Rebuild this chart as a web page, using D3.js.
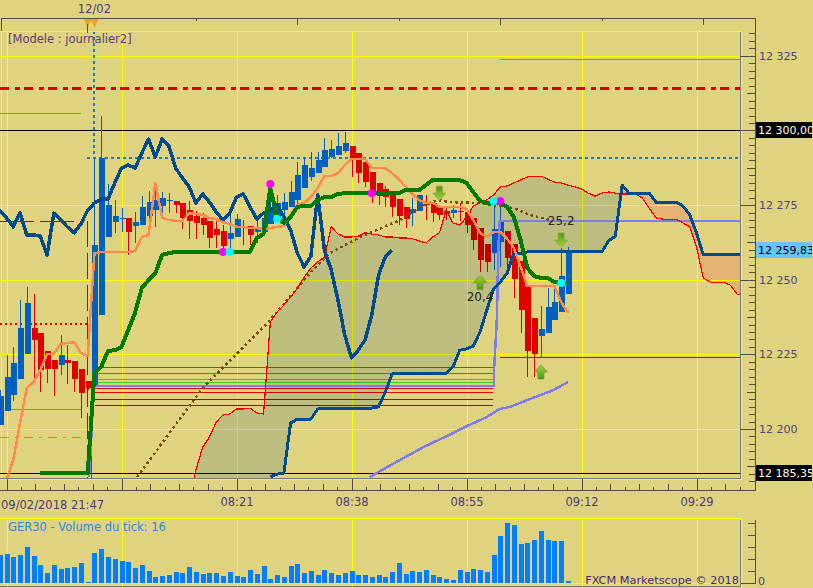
<!DOCTYPE html>
<html>
<head>
<meta charset="utf-8">
<script src="https://cdn.jsdelivr.net/npm/d3@7.9.0/dist/d3.min.js"></script>
<style>
  html, body { margin: 0; padding: 0; background: #dfd380; overflow: hidden; }
  text { font-family: "DejaVu Sans", sans-serif; font-size: 11.5px; }
  .crisp { shape-rendering: crispEdges; }
</style>
</head>
<body>
<div id="chart"></div>
<script>
// candles, first one is index -1 (just off the left edge)
const opens = [12201.3,12206,12211.4,12216.7,12225.1,12233.8,12232.1,12226.1,12223.1,12221.4,12223.1,12222.8,12220.1,12216.1,12214.7,12238.2,12264.3,12269.3,12270.3,12270.7,12268,12268.3,12271.3,12273.3,12274.7,12276.4,12276.4,12275.7,12273.3,12271.3,12270.7,12269.7,12267,12266.3,12263.7,12264.3,12267.7,12268,12266,12266,12268.7,12269.3,12273.3,12274.4,12276.7,12280.7,12284.4,12285.7,12287.8,12291.1,12291.8,12293.1,12294.8,12292.4,12289.4,12286.1,12282.4,12280.4,12278.4,12277,12274.4,12272.3,12273,12275.4,12275.7,12274.4,12273,12272.3,12273,12272.7,12270.7,12267.3,12262,12258.9,12262.7,12266.3,12262,12256.3,12247.9,12237.2,12231.1,12232.1,12236.5,12239.2,12245.2];
const highs = [12213,12224.8,12227.5,12243.2,12247.6,12245.2,12232.1,12226.1,12223.1,12231.5,12228.1,12222.8,12220.1,12216.1,12290.8,12304.8,12282.1,12276.7,12274,12270.7,12272.7,12278,12279.7,12281.7,12279.4,12279,12276.4,12275.7,12276.4,12273,12272.3,12269.7,12270,12268.3,12271.7,12272,12270,12268,12270,12272.3,12280,12278.4,12279,12283.1,12289.4,12291.1,12292.8,12292.8,12297.5,12296.8,12299.1,12299.5,12294.8,12292.4,12289.4,12286.1,12282.4,12281.4,12278.4,12277,12274.4,12277.4,12278.4,12278.4,12275.7,12274.4,12274.4,12275,12275.7,12272.7,12270.7,12267.3,12262,12277.4,12277.7,12266.3,12262,12256.3,12247.9,12237.2,12241.2,12247.2,12247.2,12260.7,12261];
const lows = [12201.3,12206,12209.4,12216.7,12225.1,12216.4,12212.4,12215.4,12211,12218.1,12215.1,12212.4,12203.7,12213,12213,12238.2,12264.3,12265.7,12266,12258.3,12262.3,12268.3,12266.7,12267.7,12272.3,12272.3,12272.3,12267,12263.7,12263.7,12265,12260.7,12260.7,12259.9,12259.9,12264.3,12261.7,12261.7,12262.3,12266,12268.7,12269.3,12270.7,12274.4,12274.4,12280.7,12283.1,12285.7,12287.8,12290.8,12291.8,12292.4,12284.4,12282.4,12281.1,12275.7,12275,12274.4,12271,12268.3,12267.3,12268,12273,12270,12269.3,12270,12270,12270.7,12269.7,12265.7,12259.9,12252.6,12252.6,12253.3,12254.3,12253.3,12243.9,12232.1,12217.4,12217.4,12223.8,12232.1,12236.5,12239.2,12245.2];
const closes = [12211,12217.4,12222.1,12233.8,12242.2,12229.8,12219.7,12220.1,12220.1,12224.8,12222.1,12216.7,12212,12213.7,12261.7,12290.8,12275,12271.3,12270.7,12266,12269.3,12274.4,12276,12276.7,12277.4,12276.7,12275,12270.7,12269.7,12269,12268.3,12264,12265,12261.3,12265.7,12270.3,12267.3,12265,12267,12270.7,12274.4,12275.7,12276,12279.4,12285.1,12288.4,12287.4,12290.1,12293.4,12293.8,12294.8,12295.8,12290.1,12285.7,12282.7,12279.4,12278,12277.7,12274.4,12271.3,12270.3,12273.7,12278.4,12275,12272.3,12271.7,12272,12273.3,12272.7,12268.3,12263.3,12256.6,12255.9,12267,12269.3,12257.3,12250.2,12239.8,12226.1,12225.1,12233.5,12240.9,12242.5,12251.2,12259.8];

const tickVolume = [198,205,184,198,254,191,128,72,128,100,107,114,142,7,212,240,184,170,156,149,107,128,86,44,51,58,79,72,114,79,65,72,72,51,79,51,44,93,65,121,30,58,44,121,135,72,86,58,93,72,58,72,86,58,58,44,58,44,79,142,65,86,79,93,58,44,30,23,93,79,100,93,79,198,331,422,408,275,282,303,366,303,296,296,16];

// orange line, starts at index 0
const tenkan = [12182.9,12189.6,12202,12213.7,12215.7,12219.7,12225.1,12225.1,12228.5,12228.8,12229.1,12225.4,12224.4,12258.9,12259.3,12259.3,12259.3,12259.3,12259.3,12259.6,12264.3,12265,12282.4,12270.7,12270,12269.7,12269.7,12272.3,12272,12271.7,12270.7,12270.3,12269.3,12268.7,12267.7,12267.7,12267.3,12267.3,12267,12267.3,12267.7,12268,12271.7,12275,12275.7,12277.7,12280.7,12284.7,12284.7,12285.7,12288.4,12290.4,12290.4,12290.4,12287.4,12287.4,12287.4,12285.7,12283.7,12281.1,12278.7,12276.7,12275.7,12275.7,12274.4,12274.4,12274.4,12274.4,12273.7,12270,12265.7,12264.3,12266,12266,12263.7,12260.7,12254.3,12247.9,12247.9,12247.9,12247.9,12247.9,12242.5,12238.9];
// green line, starts at index 5
const kijun = [12185.2,12185.2,12185.2,12185.2,12185.2,12185.2,12185.2,12185.2,12218.7,12220.8,12226.1,12226.4,12227.5,12233.2,12238.9,12247.2,12249.9,12252.2,12258.3,12258.9,12259.3,12259.3,12259.3,12259.3,12259.3,12259.3,12259.3,12259.3,12259.3,12259.3,12259.3,12259.3,12264,12265.3,12280.7,12271,12269,12271,12274.4,12274.7,12274.7,12276.7,12277.7,12277.7,12278.7,12279,12279,12279,12279,12279,12279,12279,12279,12279,12280,12280,12280,12281.7,12283.4,12283.4,12283.4,12283.4,12283.4,12282.4,12279.4,12276.4,12275.7,12275.7,12275.7,12274.4,12271,12263.3,12253.9,12251.2,12250.6,12250.6,12249.2,12248.9,12248.9];
// thick navy line, starts at index -1
const chikou = [12273.3,12270.7,12267.7,12272.3,12265,12265,12264.6,12258.3,12272.3,12270,12267.7,12265.7,12268.7,12273.3,12275.7,12277,12277,12282.4,12287.4,12288.4,12287.4,12292.4,12297.1,12291.1,12297.1,12294.8,12287.4,12284.1,12281.1,12275.7,12278.7,12276,12272.7,12270,12272.3,12277.7,12278.7,12274.4,12270.3,12272.3,12273.3,12275,12271,12266.7,12258.9,12254.3,12257.9,12278.4,12259.9,12253.3,12243.2,12231.5,12223.8,12226.4,12229.8,12238.2,12251.6,12257.6,12259.9];
// cloud edges: red starts at index 27, navy at index 39
const senkouB = [12176.2,12186.3,12193.9,12197.3,12202.3,12204.7,12205,12206.7,12206.7,12207,12205.4,12205,12235.8,12239.2,12241.5,12244.2,12247.2,12250.9,12253.9,12255.9,12257.6,12267.7,12265.3,12264.3,12264.3,12264.6,12265.7,12265.3,12265,12264.3,12264.3,12264,12264,12263.7,12263,12262.3,12264.3,12265.7,12273.3,12269,12268.3,12271,12274.7,12275.7,12276.7,12278.4,12281.1,12281.4,12282.4,12283.4,12284.4,12284.7,12284.7,12283.7,12282.7,12282.4,12281.7,12281.1,12280.4,12279,12278,12279,12279.4,12279,12278.7,12278.7,12278.7,12277.4,12274,12270.7,12270.3,12270.3,12270.3,12269,12267.7,12261,12250.6,12249.2,12249.2,12249.2,12248.2,12245.2,12244.5];
const senkouA = [12183.9,12184.9,12185.2,12202,12203.3,12203.3,12203.3,12206.7,12206.7,12206.7,12206.7,12206.7,12206.7,12206.7,12206.7,12207,12207.4,12212.4,12218.4,12218.7,12218.7,12218.7,12218.7,12218.7,12218.7,12218.7,12218.7,12220.8,12226.4,12226.8,12227.8,12232.5,12239.8,12246.9,12249.2,12252.2,12258.9,12258.9,12259.3,12259.3,12259.3,12259.3,12259.3,12259.3,12259.3,12259.3,12259.3,12259.3,12259.3,12259.3,12263,12264.6,12281.7,12279,12279,12279,12279,12276,12276,12276,12276,12274.7,12271.7,12265.7,12258.3,12258.3,12258.3,12258.3,12258.3,12258.3,12258.3];

// slow averages, read at the points where they bend
const brownIndex = [19.3,29,34.1,38.7,45.3,47.8,52.3,58.2,61.6,63.8,65.6,70,74.9,77.4,80.3];
const brownValues = [12183.9,12213.7,12225.4,12235.8,12253.3,12258.9,12264.3,12270,12275,12276.7,12276,12275.7,12274,12271.7,12270];
const violetIndex = [53.7,57.1,61.6,64.5,68.1,71,72.9,74.4,80.8,83];
const violetValues = [12183.9,12188.3,12193.9,12197,12201,12204,12206.7,12207.4,12213,12215.7];
const stepIndex = [12.2,12.6,12.9,72.1,72.1,72.5,72.7,72.9,108.6];
const stepValues = [12183.9,12199.6,12214.4,12214.4,12220.8,12237.5,12259.9,12269.7,12269.7];

// horizontal levels
const level300 = 12300;
const level185 = 12185.35;
const levelRedDash = 12314.05;
const levelBlueDots = 12291.1;
const levelGreenTop = 12323.9;
const levelGreenLeft = 12305.7;
const levelNavyLeft = 12269.7;
const levelRedDots = 12235.6;
const levelGreenMid = 12206.7;
const levelGreenDash = 12197.3;
const levelRedRight = 12224.1;
const fanGreens = [12220.9,12218.9,12216.6,12215.9];
const fanReds = [12213.7,12212.4];
const fanDarkReds = [12210,12208];

// signals
const magentaIndex = [32,39,54,73];
const magentaValues = [12259.3,12282.1,12279,12276.4];
const cyanIndex = [33,40,72,82];
const cyanValues = [12259.3,12270.3,12276.4,12248.9];
const upIndex = [70,79];
const upValues = [12249.1,12219.1];
const downIndex = [64,82];
const downValues = [12279,12263.3];
const noteIndex = [70,82];
const noteValues = [12244.2,12269.5];
const noteTexts = ['20,4','25,2'];

// axis labels
const timeIndex = [34,51,68,85,102];
const timeLabels = ['08:21','08:38','08:55','09:12','09:29'];
const gridPrices = [12325,12300,12275,12250,12225,12200];
const priceLabels = [12325,12275,12250,12225,12200];

const width = 813, height = 588;
const plotTop = 31, plotBottom = 479, plotRight = 741;
const paper = '#dfd380';

const svg = d3.select('#chart').append('svg')
  .attr('width', width).attr('height', height)
  .style('display', 'block');

const x = d3.scaleLinear().domain([0, 102]).range([6.5, 696.5]);
const y = d3.scaleLinear().domain([12325, 12200]).range([55.8, 429]);
const yVol = d3.scaleLinear().domain([0, 420]).range([583, 523]);

const defs = svg.append('defs');
defs.append('clipPath').attr('id', 'plot').append('rect')
  .attr('x', 0).attr('y', plotTop).attr('width', plotRight).attr('height', plotBottom - plotTop);
defs.append('clipPath').attr('id', 'tagclip').append('rect')
  .attr('x', 756).attr('y', 0).attr('width', 56).attr('height', height);

const fade = defs.append('linearGradient').attr('id', 'arrowFill')
  .attr('x1', 0).attr('y1', 0).attr('x2', 0).attr('y2', 1);
fade.append('stop').attr('offset', '0%').attr('stop-color', '#a6cf3c');
fade.append('stop').attr('offset', '100%').attr('stop-color', '#4f9a18');

const plot = svg.append('g').attr('clip-path', 'url(#plot)').attr('class', 'crisp');
// the clip isolates the group, so the multiply below needs its own backdrop
plot.append('rect').attr('x', 0).attr('y', 0).attr('width', width).attr('height', height).attr('fill', paper);

// ---- cloud helpers
const edgeA = (i) => (i < 39 ? 12170 : senkouA[i - 39]);
const edgeB = (i) => senkouB[i - 27];
const cloudIdx = d3.range(27, 110);

const aboveA = d3.area().x((i) => x(i)).y0(0).y1((i) => y(edgeA(i)));
const belowA = d3.area().x((i) => x(i)).y0(height).y1((i) => y(edgeA(i)));
const between = d3.area().x((i) => x(i)).y0((i) => y(edgeB(i))).y1((i) => y(edgeA(i)));

defs.append('clipPath').attr('id', 'aboveA').append('path').attr('d', aboveA(cloudIdx));
defs.append('clipPath').attr('id', 'belowA').append('path').attr('d', belowA(cloudIdx));

// orange part of the cloud sits under the grid
plot.append('path').attr('d', between(cloudIdx))
  .attr('clip-path', 'url(#belowA)')
  .attr('fill', '#e4b272');

// ---- grid
const drawGrid = (g, top, bottom) => {
  g.selectAll('line.v').data(d3.range(0, 103, 17)).join('line')
    .attr('class', 'v')
    .attr('x1', (d) => Math.round(x(d)) + 0.5).attr('x2', (d) => Math.round(x(d)) + 0.5)
    .attr('y1', top).attr('y2', bottom)
    .attr('stroke', '#ffff00');
};
drawGrid(plot.append('g'), plotTop, plotBottom);
plot.selectAll('line.h').data(gridPrices).join('line')
  .attr('class', 'h')
  .attr('x1', 0).attr('x2', plotRight)
  .attr('y1', (d) => Math.round(y(d)) + 0.5).attr('y2', (d) => Math.round(y(d)) + 0.5)
  .attr('stroke', '#ffff00');
plot.append('line').attr('x1', 1.5).attr('x2', 1.5).attr('y1', plotTop).attr('y2', plotBottom).attr('stroke', '#ffff00');

// ---- levels
const hline = (value, i0, i1, color, w, dash) => plot.append('line')
  .attr('x1', x(i0)).attr('x2', x(i1))
  .attr('y1', Math.round(y(value)) + 0.5).attr('y2', Math.round(y(value)) + 0.5)
  .attr('stroke', color).attr('stroke-width', w)
  .attr('stroke-dasharray', dash || null);

hline(levelGreenTop, 73, 108.6, '#2fd018', 1);
hline(levelGreenLeft, -1, 11, '#2fd018', 1);
hline(levelRedDash, -1, 108.6, '#e00000', 3, '9.5 6 4.5 4');
hline(level300, -1, 108.6, '#000', 1);
hline(levelBlueDots, 11.9, 108.6, '#0a84c8', 2, '3 3');
hline(levelNavyLeft, -1, 11, '#004a90', 1, '34 6');
hline(levelRedDots, -1, 12, '#e00000', 2, '2 3');
hline(levelGreenMid, -1, 11, '#2fd018', 1);
hline(levelGreenDash, -1, 11.6, '#2fe018', 1, '9 6 3 6');
hline(levelRedRight, 73, 108.6, '#f00000', 1);
hline(level185, -1, 108.6, '#000', 1);
fanGreens.forEach((v, k) => hline(v, 13.1, 71.9, k < 1 ? '#00a000' : k < 2 ? '#10b010' : '#30d020', 1));
fanReds.forEach((v) => hline(v, 13.1, 71.9, '#f00000', 1));
fanDarkReds.forEach((v) => hline(v, 13.1, 71.9, '#a01010', 1));

// vertical dotted marker at the 12/02 candle, and the faint verticals next to it
plot.append('line').attr('x1', x(13)).attr('x2', x(13)).attr('y1', plotTop).attr('y2', y(levelBlueDots))
  .attr('stroke', '#0a84c8').attr('stroke-width', 2).attr('stroke-dasharray', '3 3');
plot.append('line').attr('x1', x(11.9)).attr('x2', x(11.9)).attr('y1', y(levelNavyLeft)).attr('y2', plotBottom)
  .attr('stroke', '#004a90').attr('stroke-dasharray', '26 6');
plot.append('line').attr('x1', x(12.6)).attr('x2', x(12.6)).attr('y1', y(12216)).attr('y2', plotBottom)
  .attr('stroke', '#0060c0');

// ---- candles
const candles = opens.map((o, k) => ({ i: k - 1, o, h: highs[k], l: lows[k], c: closes[k] }));
const candleColor = (d) => (d.c >= d.o ? '#0060c0' : '#e00000');
const gCandles = plot.append('g');
gCandles.selectAll('line').data(candles).join('line')
  .attr('x1', (d) => Math.round(x(d.i)) + 0.5).attr('x2', (d) => Math.round(x(d.i)) + 0.5)
  .attr('y1', (d) => y(d.h)).attr('y2', (d) => y(d.l))
  .attr('stroke', candleColor);
gCandles.selectAll('rect').data(candles).join('rect')
  .attr('x', (d) => Math.round(x(d.i)) - 2.5).attr('width', 6)
  .attr('y', (d) => y(Math.max(d.o, d.c)))
  .attr('height', (d) => Math.max(1, Math.abs(y(d.o) - y(d.c))))
  .attr('fill', candleColor);

// grey part of the cloud tints whatever is under it
plot.append('path').attr('d', between(cloudIdx))
  .attr('clip-path', 'url(#aboveA)')
  .attr('fill', '#dae5ff')
  .style('mix-blend-mode', 'multiply');

// ---- lines
const line = d3.line().x((d) => x(d[0])).y((d) => y(d[1]));
const drawLine = (pts, color, w, dash) => plot.append('path')
  .attr('d', line(pts)).attr('fill', 'none')
  .attr('stroke', color).attr('stroke-width', w)
  .attr('stroke-dasharray', dash || null)
  .attr('stroke-linejoin', 'round');

drawLine(stepIndex.map((d, k) => [d, stepValues[k]]), '#7c7cf0', 2.5);
drawLine(violetIndex.map((d, k) => [d, violetValues[k]]), '#7c7cf0', 2.5);
drawLine(brownIndex.map((d, k) => [d, brownValues[k]]), '#7a4a14', 2.5, '2.5 3');
drawLine(senkouB.map((v, k) => [k + 27, v]), '#f00000', 1.2);
drawLine(senkouA.map((v, k) => [k + 39, v]), '#004a90', 3);
drawLine(chikou.map((v, k) => [k - 1, v]), '#004a90', 3.5);
drawLine(tenkan.map((v, k) => [k, v]), '#ff8a50', 2.5);
drawLine(kijun.map((v, k) => [k + 5, v]), '#007a00', 4);

// ---- signals
const overlay = svg.append('g').attr('clip-path', 'url(#plot)');
overlay.selectAll('circle.m').data(magentaIndex).join('circle').attr('class', 'm')
  .attr('cx', (d) => x(d)).attr('cy', (d, k) => y(magentaValues[k])).attr('r', 4).attr('fill', '#ff00ff');
overlay.selectAll('circle.c').data(cyanIndex).join('circle').attr('class', 'c')
  .attr('cx', (d) => x(d)).attr('cy', (d, k) => y(cyanValues[k])).attr('r', 4).attr('fill', '#00ffff');

const arrowShape = 'M0,-7L6.5,0L3,0L3,7L-3,7L-3,0L-6.5,0Z';
overlay.selectAll('path.up').data(upIndex).join('path').attr('class', 'up')
  .attr('d', arrowShape)
  .attr('transform', (d, k) => `translate(${x(d)},${y(upValues[k])})`)
  .attr('fill', 'url(#arrowFill)').attr('stroke', '#5f9a20').attr('stroke-width', 0.7);
overlay.selectAll('path.down').data(downIndex).join('path').attr('class', 'down')
  .attr('d', arrowShape)
  .attr('transform', (d, k) => `translate(${x(d)},${y(downValues[k])}) rotate(180)`)
  .attr('fill', 'url(#arrowFill)').attr('stroke', '#7fa828').attr('stroke-width', 0.7);
overlay.selectAll('text').data(noteIndex).join('text')
  .attr('x', (d) => x(d)).attr('y', (d, k) => y(noteValues[k]))
  .attr('text-anchor', 'middle').attr('dominant-baseline', 'middle')
  .attr('fill', '#222').style('font-size', '12px')
  .text((d, k) => noteTexts[k]);

svg.append('text').attr('x', 8).attr('y', 43).attr('fill', '#5b3a80').text('[Modele : journalier2]');

// ---- frames
const frame = svg.append('g').attr('class', 'crisp');
frame.append('path').attr('fill', 'none').attr('stroke', '#ffff00').attr('stroke-width', 1)
  .attr('d', `M0,31.5H741.5V479.5H0`);
frame.append('path').attr('fill', 'none').attr('stroke', '#7a7a7a').attr('stroke-width', 1)
  .attr('d', `M740.5,32V478.5H0`);
frame.append('path').attr('fill', 'none').attr('stroke', '#4d4d4d').attr('stroke-width', 1)
  .attr('d', `M1.5,31V18.5H755.5V490.5H0`);

// top date marks
const topMarks = [13, 28, 43, 58, 73, 88, 103];
frame.selectAll('line.top').data(topMarks).join('line').attr('class', 'top')
  .attr('x1', (d) => Math.round(x(d)) + 0.5).attr('x2', (d) => Math.round(x(d)) + 0.5)
  .attr('y1', 18).attr('y2', (d, k) => (k % 2 ? 21 : 25))
  .attr('stroke', '#4d4d4d');
const flagPath = 'M-4,19L4,19L0,27.5Z';
svg.selectAll('path.flag').data([12, 13]).join('path').attr('class', 'flag')
  .attr('d', flagPath)
  .attr('transform', (d) => `translate(${x(d)},0)`)
  .attr('fill', '#f0a020');
svg.append('line').attr('class', 'crisp').attr('x1', x(12)).attr('x2', x(12)).attr('y1', 24).attr('y2', 33).attr('stroke', '#4d4d4d');
svg.append('text').attr('x', x(13)).attr('y', 13).attr('text-anchor', 'middle').attr('fill', '#4b3a78').text('12/02');

// right price axis
const minorTicks = d3.range(12182.5, 12335, 2.5);
const priceAxis = svg.append('g').attr('class', 'crisp')
  .attr('transform', 'translate(755,0)')
  .call(d3.axisLeft(y).tickValues(minorTicks).tickSize(6).tickFormat(''));
priceAxis.select('.domain').remove();
priceAxis.selectAll('.tick line')
  .attr('stroke', '#4d4d4d')
  .attr('x2', (d) => (d % 25 === 0 ? -15 : d % 12.5 === 0 ? -8 : -6));

const spaced = (v) => String(v).replace(/(\d+)(\d{3})/, '$1 $2');
const priceText = svg.append('g')
  .attr('transform', 'translate(755,0)')
  .call(d3.axisRight(y).tickValues(priceLabels).tickSize(0).tickPadding(4).tickFormat(spaced));
priceText.select('.domain').remove();
priceText.selectAll('text').attr('fill', '#4b4678').style('font-size', '11px').style('font-family', '"DejaVu Sans", sans-serif');

// price tags
const tags = [
  { value: 12300, label: '12 300,00', bg: '#000', fg: '#fff' },
  { value: 12259.83, label: '12 259,83', bg: '#66c4ff', fg: '#000' },
  { value: 12185.35, label: '12 185,35', bg: '#000', fg: '#fff' },
];
const tagG = svg.append('g').attr('clip-path', 'url(#tagclip)');
tags.forEach((t) => {
  tagG.append('rect').attr('class', 'crisp').attr('x', 756).attr('y', y(t.value) - 8).attr('width', 56).attr('height', 16).attr('fill', t.bg);
  tagG.append('text').attr('x', 758).attr('y', y(t.value) + 4).attr('fill', t.fg).style('font-size', '11px').text(t.label);
});

// bottom time axis
const timeTicks = d3.range(0, 52).map((k) => k * 17 / 8);
const timeAxis = svg.append('g').attr('class', 'crisp')
  .attr('transform', 'translate(0,490)')
  .call(d3.axisTop(x).tickValues(timeTicks).tickSize(4).tickFormat(''));
timeAxis.select('.domain').remove();
timeAxis.selectAll('.tick line').attr('stroke', '#4d4d4d')
  .attr('y2', (d, k) => (k % 8 === 0 ? -11 : k % 2 === 0 ? -6 : -3));
const timeText = svg.append('g')
  .attr('transform', 'translate(0,498)')
  .call(d3.axisBottom(x).tickValues(timeIndex).tickSize(0).tickPadding(0).tickFormat((d, k) => timeLabels[k]));
timeText.select('.domain').remove();
timeText.selectAll('text').attr('fill', '#4b3a78').style('font-size', '11.5px').style('font-family', '"DejaVu Sans", sans-serif');
svg.append('text').attr('x', 1).attr('y', 509).attr('fill', '#4b3a78').text('09/02/2018 21:47');

// ---- volume panel
const vol = svg.append('g').attr('class', 'crisp');
const drawVolGrid = vol.append('g');
drawGrid(drawVolGrid, 520, 588);
vol.append('line').attr('x1', 0).attr('x2', 741).attr('y1', 583.5).attr('y2', 583.5).attr('stroke', '#ffff00');
vol.selectAll('rect').data(tickVolume).join('rect')
  .attr('x', (d, k) => Math.round(x(k - 1)) - 2).attr('width', 5)
  .attr('y', (d) => yVol(d)).attr('height', (d) => yVol(0) - yVol(d))
  .attr('fill', '#0080ff');
vol.append('path').attr('fill', 'none').attr('stroke', '#ffff00').attr('d', 'M0,518.5H741.5V587');
vol.append('path').attr('fill', 'none').attr('stroke', '#7a7a7a').attr('d', 'M740.5,519.5V586.5H0');

const volTicks = [0, 84, 168, 252, 336, 420];
const volAxis = svg.append('g').attr('class', 'crisp')
  .attr('transform', 'translate(755,0)')
  .call(d3.axisLeft(yVol).tickValues(volTicks).tickSize(7).tickFormat(''));
volAxis.select('.domain').attr('stroke', '#4d4d4d').attr('d', 'M0.5,520V584');
volAxis.selectAll('.tick line').attr('stroke', '#4d4d4d').attr('x2', (d) => (d === 0 ? -14 : -7));

svg.append('text').attr('x', 758).attr('y', 585).attr('fill', '#4b3a78').style('font-size', '11px').text('0');
svg.append('text').attr('x', 8).attr('y', 531).attr('fill', '#2a8ae0').text('GER30 - Volume du tick: 16');
svg.append('text').attr('x', 739).attr('y', 584).attr('text-anchor', 'end').attr('fill', '#4a2a70').style('font-size', '11.3px').text('FXCM Marketscope © 2018');
</script>
</body>
</html>
